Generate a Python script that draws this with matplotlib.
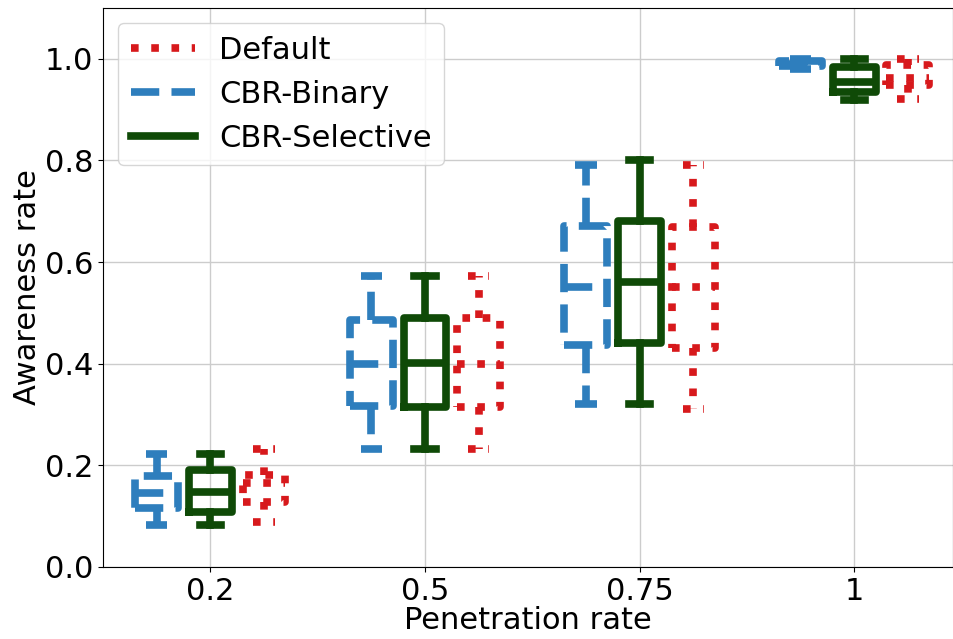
import matplotlib
matplotlib.use("Agg")
import matplotlib.pyplot as plt
from matplotlib.lines import Line2D

categories = ['0.2', '0.5', '0.75', '1']

# Box statistics per series: whisker low, Q1, median, Q3, whisker high
binary_lo  = [0.083, 0.232, 0.321, 0.980]
binary_q1  = [0.116, 0.317, 0.437, 0.985]
binary_med = [0.145, 0.400, 0.551, 0.990]
binary_q3  = [0.180, 0.486, 0.671, 0.995]
binary_hi  = [0.222, 0.573, 0.791, 1.000]

select_lo  = [0.083, 0.232, 0.321, 0.919]
select_q1  = [0.108, 0.315, 0.441, 0.935]
select_med = [0.148, 0.402, 0.561, 0.955]
select_q3  = [0.191, 0.490, 0.681, 0.984]
select_hi  = [0.222, 0.573, 0.801, 1.000]

default_lo  = [0.089, 0.232, 0.311, 0.920]
default_q1  = [0.128, 0.315, 0.431, 0.949]
default_med = [0.165, 0.400, 0.551, 0.962]
default_q3  = [0.181, 0.490, 0.670, 0.988]
default_hi  = [0.232, 0.573, 0.791, 1.000]

c_blue = '#2E7EBD'
c_green = '#0F4A07'
c_red = '#D7191C'

fig = plt.figure(figsize=(9.54, 6.39), dpi=100)
ax = fig.add_axes([103/954, (639-567)/639, 850/954, 559/639])

def stats(lo, q1, med, q3, hi):
    return [dict(whislo=a, q1=b, med=c, q3=d, whishi=e, fliers=[])
            for a, b, c, d, e in zip(lo, q1, med, q3, hi)]

def draw(st, offset, color, ls):
    props = dict(color=color, linewidth=5.5, linestyle=ls)
    pos = [i + offset for i in range(len(categories))]
    ax.bxp(st, positions=pos, widths=0.2, showfliers=False,
           boxprops=props, whiskerprops=props, capprops=props,
           medianprops=props, manage_ticks=False)

draw(stats(binary_lo, binary_q1, binary_med, binary_q3, binary_hi), -0.25, c_blue, '--')
draw(stats(select_lo, select_q1, select_med, select_q3, select_hi), 0.0, c_green, '-')
draw(stats(default_lo, default_q1, default_med, default_q3, default_hi), 0.25, c_red, ':')

ax.set_xlim(-0.5, 3.46)
ax.set_ylim(0, 1.1)
ax.set_xticks(range(len(categories)))
ax.set_xticklabels(categories)
ax.set_yticks([0.0, 0.2, 0.4, 0.6, 0.8, 1.0])
ax.tick_params(labelsize=22)
ax.set_xlabel('Penetration rate', fontsize=22, labelpad=0)
ax.set_ylabel('Awareness rate', fontsize=22, labelpad=2)
ax.grid(True, color='#cccccc', linewidth=1)
ax.set_axisbelow(True)

handles = [Line2D([], [], color=c_red, lw=5.5, ls=':'),
           Line2D([], [], color=c_blue, lw=5.5, ls='--'),
           Line2D([], [], color=c_green, lw=5.5, ls='-')]
ax.legend(handles, ['Default', 'CBR-Binary', 'CBR-Selective'],
          loc='upper left', fontsize=22, handlelength=2.1)

fig.savefig('out.png', dpi=100)
